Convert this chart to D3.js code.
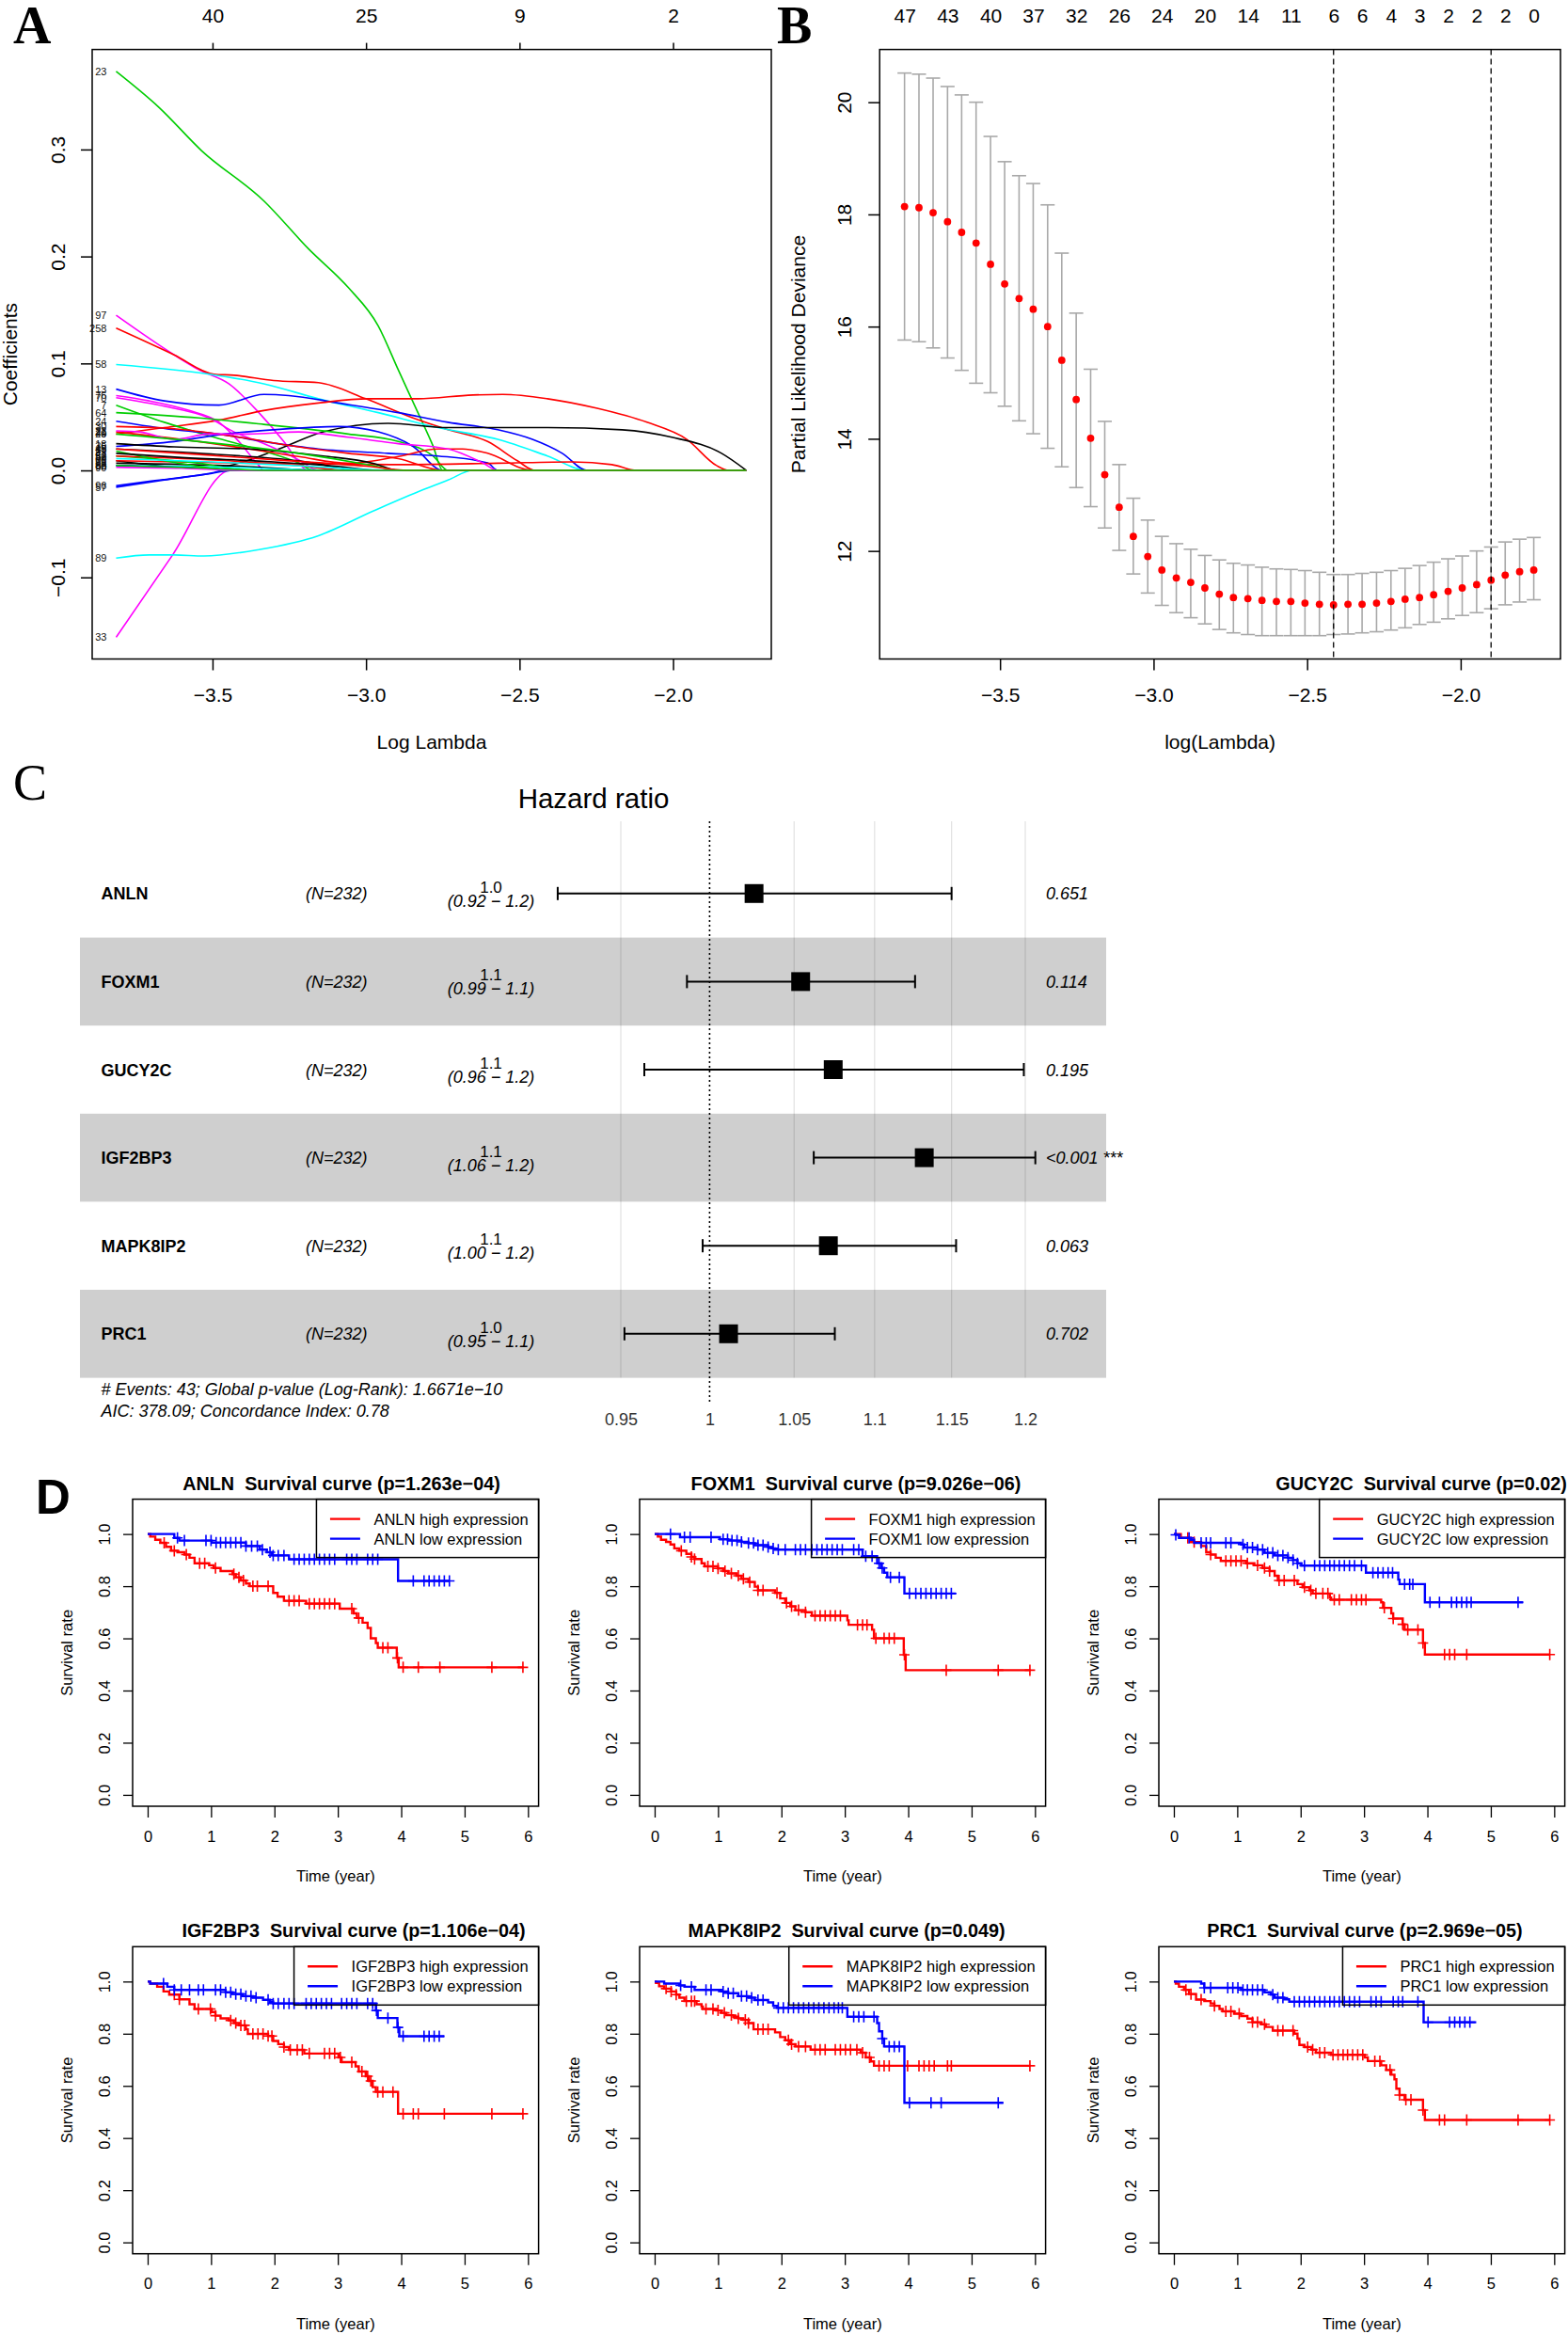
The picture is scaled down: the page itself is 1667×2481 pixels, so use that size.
<!DOCTYPE html>
<html><head><meta charset="utf-8">
<script src="https://cdn.jsdelivr.net/npm/d3@7"></script>
<style>
body{margin:0;background:#fff}
svg{display:block}
</style>
</head><body>
<svg id="chart" width="1667" height="2481"></svg>
<script>
// ===================== DATA =====================
// Panel A: lasso coefficient paths
const coefLambdaEnd = -1.761;
const aXTicks = [-3.5, -3.0, -2.5, -2.0];
const aYTicks = [-0.1, 0.0, 0.1, 0.2, 0.3];
const aTopAt = [-3.5, -3.0, -2.5, -2.0];
const aTopDf = ["40", "25", "9", "2"];
const coefPaths = [
 {label:"23", col:3, pts:[[-3.814,0.373],[-3.673,0.339],[-3.536,0.299],[-3.333,0.252],[-3.187,0.207],[-3.058,0.171],[-2.96,0.135],[-2.895,0.094],[-2.831,0.054],[-2.782,0.023],[-2.75,0]]},
 {label:"33", col:6, pts:[[-3.814,-0.156],[-3.63,-0.079],[-3.442,0]]},
 {label:"89", col:5, pts:[[-3.814,-0.082],[-3.706,-0.079],[-3.625,-0.079],[-3.528,-0.080],[-3.349,-0.074],[-3.155,-0.061],[-2.977,-0.038],[-2.814,-0.018],[-2.733,-0.009],[-2.652,0]]},
 {label:"97", col:6, pts:[[-3.814,0.145],[-3.625,0.108],[-3.544,0.094],[-3.447,0.081],[-3.349,0.054],[-3.268,0.027],[-3.203,0.002],[-3.195,0]]},
 {label:"258", col:2, pts:[[-3.814,0.133],[-3.625,0.108],[-3.495,0.090],[-3.43,0.089],[-3.301,0.084],[-3.155,0.082],[-3.001,0.067],[-2.847,0.049],[-2.733,0.038],[-2.604,0.027],[-2.507,0.009],[-2.45,0]]},
 {label:"58", col:5, pts:[[-3.814,0.099],[-3.511,0.090],[-3.333,0.081],[-3.155,0.067],[-2.96,0.054],[-2.766,0.040],[-2.571,0.029],[-2.409,0.0135],[-2.28,0]]},
 {label:"13", col:4, pts:[[-3.814,0.076],[-3.657,0.065],[-3.479,0.061],[-3.333,0.071],[-3.252,0.070],[-3.09,0.063],[-2.895,0.054],[-2.733,0.045],[-2.571,0.038],[-2.458,0.029],[-2.361,0.016],[-2.28,0]]},
 {label:"29", col:2, pts:[[-3.814,0.034],[-3.657,0.040],[-3.479,0.047],[-3.333,0.056],[-3.155,0.063],[-2.993,0.067],[-2.831,0.067],[-2.652,0.0705],[-2.555,0.071],[-2.409,0.067],[-2.247,0.058],[-2.085,0.045],[-1.955,0.029],[-1.858,0.0045],[-1.818,0]]},
 {label:"66", col:1, pts:[[-3.814,0.009],[-3.544,0.002],[-3.447,0.0045],[-3.284,0.020],[-3.139,0.036],[-2.928,0.044],[-2.733,0.040],[-2.409,0.040],[-2.166,0.038],[-2.004,0.031],[-1.842,0.016],[-1.761,0]]},
 {label:"76", col:6, pts:[[-3.814,0.070],[-3.706,0.065],[-3.576,0.056],[-3.479,0.045],[-3.414,0.027],[-3.349,0.0045],[-3.333,0]]},
 {label:"70", col:6, pts:[[-3.814,0.068],[-3.657,0.060],[-3.511,0.049],[-3.43,0.036],[-3.333,0.025],[-3.22,0.010],[-3.155,0]]},
 {label:"64", col:3, pts:[[-3.814,0.054],[-3.544,0.049],[-3.333,0.043],[-3.058,0.034],[-2.895,0.027],[-2.782,0.0135],[-2.733,0]]},
 {label:"7", col:3, pts:[[-3.814,0.061],[-3.657,0.045],[-3.495,0.031],[-3.333,0.018],[-3.22,0.007],[-3.171,0]]},
 {label:"24", col:4, pts:[[-3.814,0.046],[-3.625,0.038],[-3.479,0.034],[-3.333,0.027],[-3.155,0.020],[-2.928,0.016],[-2.766,0.0135],[-2.604,0.007],[-2.571,0]]},
 {label:"35", col:4, pts:[[-3.814,0.0225],[-3.625,0.027],[-3.463,0.034],[-3.301,0.038],[-3.09,0.041],[-2.96,0.036],[-2.847,0.0225],[-2.75,0]]},
 {label:"30", col:2, pts:[[-3.814,0.041],[-3.625,0.039],[-3.414,0.031],[-3.22,0.022],[-3.058,0.016],[-2.895,0.011],[-2.75,0]]},
 {label:"21", col:2, pts:[[-3.814,0.036],[-3.544,0.027],[-3.22,0.013],[-3.058,0.0067],[-2.895,0.013],[-2.766,0.020],[-2.685,0.020],[-2.604,0.016],[-2.458,0]]},
 {label:"71", col:2, pts:[[-3.814,0.009],[-3.382,0.0067],[-2.895,0.0054],[-2.571,0.0067],[-2.328,0.008],[-2.199,0.0054],[-2.118,0]]},
 {label:"22", col:6, pts:[[-3.814,0.037],[-3.738,0.036],[-3.625,0.029],[-3.511,0.034],[-3.382,0.034],[-3.22,0.036],[-3.058,0.031],[-2.895,0.025],[-2.733,0.020],[-2.62,0.007],[-2.571,0]]},
 {label:"57", col:4, pts:[[-3.814,-0.0157],[-3.657,-0.009],[-3.495,-0.002],[-3.463,0]]},
 {label:"96", col:4, pts:[[-3.814,-0.0144],[-3.7,-0.010],[-3.53,-0.004],[-3.43,0]]},
 {label:"18", col:1, pts:[[-3.814,0.025],[-3.625,0.022],[-3.382,0.020],[-3.139,0.0135],[-2.977,0.0067],[-2.895,0]]},
 {label:"19", col:1, pts:[[-3.814,0.020],[-3.544,0.016],[-3.22,0.009],[-3.0,0]]},
 {label:"72", col:1, pts:[[-3.814,0.0067],[-3.382,0.0036],[-3.139,0]]},
 {label:"40", col:3, pts:[[-3.814,0.034],[-3.544,0.027],[-3.22,0.016],[-2.977,0.0045],[-2.895,0]]},
 {label:"52", col:3, pts:[[-3.814,0.0135],[-3.544,0.0067],[-3.382,0]]},
 {label:"80", col:5, pts:[[-3.814,0.0045],[-3.544,0.0036],[-3.22,0.0009],[-3.1,0]]},
 {label:"50", col:2, pts:[[-3.814,0.0135],[-3.447,0.009],[-3.22,0.0045],[-3.058,0]]},
 {label:"85", col:4, pts:[[-3.814,0.0045],[-3.544,0.0022],[-3.382,0]]},
 {label:"99", col:3, pts:[[-3.814,0.018],[-3.657,0.009],[-3.511,0.0022],[-3.463,0]]},
 {label:"41", col:1, pts:[[-3.814,0.016],[-3.6,0.012],[-3.3,0.008],[-3.1,0.004],[-2.95,0]]},
 {label:"60", col:5, pts:[[-3.814,0.011],[-3.5,0.008],[-3.2,0.004],[-2.9,0]]},
 {label:"90", col:6, pts:[[-3.814,0.003],[-3.6,0.002],[-3.4,0]]},
 {label:"45", col:2, pts:[[-3.814,0.020],[-3.6,0.016],[-3.3,0.010],[-3.0,0.004],[-2.85,0]]},
 {label:"92", col:3, pts:[[-3.814,0.0045],[-3.5,0.002],[-3.3,0]]}
];

// Panel B: cross-validation curve
const cvLogLambda = [-3.811,-3.764,-3.718,-3.671,-3.625,-3.578,-3.531,-3.485,-3.438,-3.392,-3.345,-3.299,-3.252,-3.205,-3.159,-3.112,-3.066,-3.019,-2.973,-2.926,-2.879,-2.833,-2.786,-2.740,-2.693,-2.647,-2.600,-2.553,-2.507,-2.460,-2.414,-2.367,-2.321,-2.274,-2.227,-2.181,-2.134,-2.088,-2.041,-1.995,-1.948,-1.901,-1.855,-1.808,-1.762];
const cvMean = [18.14,18.12,18.03,17.87,17.68,17.49,17.11,16.76,16.50,16.31,16.00,15.40,14.70,14.01,13.36,12.78,12.26,11.90,11.66,11.52,11.44,11.34,11.23,11.17,11.15,11.12,11.10,11.10,11.07,11.05,11.04,11.05,11.05,11.07,11.10,11.14,11.17,11.22,11.28,11.34,11.40,11.48,11.57,11.63,11.66];
const cvUpper = [20.52,20.50,20.43,20.28,20.13,20.00,19.39,18.94,18.69,18.55,18.17,17.31,16.24,15.24,14.31,13.54,12.94,12.55,12.26,12.13,12.03,11.92,11.84,11.78,11.75,11.71,11.68,11.67,11.65,11.62,11.58,11.58,11.60,11.62,11.65,11.69,11.74,11.80,11.86,11.91,12.00,12.07,12.16,12.21,12.24];
const cvLower = [15.76,15.73,15.62,15.44,15.22,14.99,14.82,14.58,14.32,14.09,13.83,13.50,13.13,12.79,12.41,12.01,11.59,11.25,11.03,10.90,10.81,10.70,10.60,10.54,10.51,10.49,10.49,10.49,10.49,10.49,10.51,10.52,10.54,10.56,10.59,10.63,10.69,10.73,10.79,10.85,10.90,10.97,11.04,11.09,11.13];
const cvTopAt = [-3.811,-3.671,-3.531,-3.392,-3.252,-3.112,-2.973,-2.833,-2.693,-2.553,-2.414,-2.321,-2.227,-2.134,-2.041,-1.948,-1.855,-1.762];
const cvTopLabels = ["47","43","40","37","32","26","24","20","14","11","6","6","4","3","2","2","2","0"];
const cvLambdaMin = -2.414;
const cvLambda1se = -1.901;
const bXTicks = [-3.5, -3.0, -2.5, -2.0];
const bYTicks = [12, 14, 16, 18, 20];

// Panel C: multivariate Cox forest plot
const hrGenes = ["ANLN","FOXM1","GUCY2C","IGF2BP3","MAPK8IP2","PRC1"];
const hrN = [232,232,232,232,232,232];
const hrEst = [1.026,1.054,1.074,1.132,1.071,1.011];
const hrLow = [0.916,0.987,0.963,1.062,0.996,0.952];
const hrHigh = [1.150,1.126,1.199,1.207,1.153,1.075];
const hrEstLabel = ["1.0","1.1","1.1","1.1","1.1","1.0"];
const hrCiLabel = ["(0.92 − 1.2)","(0.99 − 1.1)","(0.96 − 1.2)","(1.06 − 1.2)","(1.00 − 1.2)","(0.95 − 1.1)"];
const hrPLabel = ["0.651","0.114","0.195","<0.001 ***","0.063","0.702"];
const hrTicks = [0.95, 1, 1.05, 1.1, 1.15, 1.2];
const hrFoot = ["# Events: 43; Global p-value (Log-Rank): 1.6671e−10", "AIC: 378.09; Concordance Index: 0.78"];

// Panel D: Kaplan-Meier curves  [time, survival] steps and censor times
const kmXTicks = [0,1,2,3,4,5,6];
const kmYTicks = [0,0.2,0.4,0.6,0.8,1.0];
const anlnHigh = [[0,1],[0.04,0.99],[0.12,0.978],[0.2,0.966],[0.29,0.951],[0.37,0.936],[0.47,0.93],[0.58,0.921],[0.66,0.909],[0.74,0.888],[0.97,0.88],[1.04,0.87],[1.15,0.858],[1.34,0.846],[1.39,0.834],[1.47,0.822],[1.55,0.81],[1.61,0.8],[1.98,0.774],[2.05,0.76],[2.15,0.744],[2.5,0.733],[3.03,0.714],[3.25,0.696],[3.3,0.678],[3.39,0.66],[3.47,0.64],[3.52,0.6],[3.6,0.582],[3.63,0.564],[3.93,0.525],[3.96,0.489],[5.93,0.489]];
const anlnHighCens = [0.26,0.42,0.61,0.82,0.9,1.07,1.36,1.44,1.51,1.66,1.73,1.9,2.23,2.31,2.39,2.55,2.63,2.71,2.79,2.87,2.95,3.22,3.33,3.71,3.79,3.94,4.03,4.27,4.61,5.43,5.92];
const anlnLow = [[0,1],[0.42,0.985],[0.5,0.975],[1.01,0.967],[1.55,0.954],[1.77,0.94],[1.88,0.93],[1.96,0.918],[2.23,0.903],[3.95,0.82],[4.76,0.82]];
const anlnLowCens = [0.47,0.58,0.92,1.0,1.08,1.15,1.23,1.31,1.39,1.47,1.55,1.64,1.73,1.81,1.93,1.98,2.06,2.15,2.31,2.39,2.47,2.55,2.63,2.71,2.79,2.87,2.95,3.14,3.22,3.3,3.47,3.55,3.63,4.19,4.36,4.44,4.52,4.6,4.68,4.76];
const foxm1High = [[0,1],[0.05,0.99],[0.1,0.978],[0.18,0.97],[0.25,0.96],[0.31,0.945],[0.39,0.936],[0.5,0.924],[0.58,0.912],[0.63,0.904],[0.74,0.888],[0.79,0.876],[1.0,0.868],[1.08,0.858],[1.16,0.849],[1.29,0.84],[1.37,0.828],[1.48,0.816],[1.58,0.798],[1.63,0.784],[1.9,0.774],[1.98,0.753],[2.06,0.736],[2.14,0.723],[2.22,0.708],[2.38,0.7],[2.48,0.687],[3.04,0.669],[3.06,0.652],[3.43,0.633],[3.46,0.6],[3.93,0.537],[3.96,0.478],[5.93,0.478]];
const foxm1HighCens = [0.42,0.58,0.63,0.84,0.92,1.0,1.11,1.21,1.32,1.4,1.5,1.63,1.71,1.93,2.08,2.16,2.27,2.38,2.53,2.61,2.69,2.77,2.85,2.93,3.2,3.28,3.35,3.49,3.62,3.7,3.78,3.94,4.6,5.42,5.92];
const foxm1Low = [[0,1],[0.4,0.988],[1.03,0.98],[1.16,0.975],[1.37,0.97],[1.48,0.965],[1.58,0.957],[1.79,0.95],[1.85,0.945],[1.9,0.94],[3.28,0.915],[3.51,0.888],[3.57,0.87],[3.62,0.852],[3.67,0.834],[3.94,0.772],[4.75,0.772]];
const foxm1LowCens = [0.25,0.47,0.56,0.89,1.08,1.15,1.22,1.3,1.37,1.48,1.56,1.63,1.71,1.79,1.87,1.95,2.06,2.22,2.3,2.38,2.48,2.56,2.64,2.72,2.8,2.88,2.96,3.14,3.22,3.33,3.43,3.54,3.59,3.72,3.86,4.02,4.12,4.2,4.28,4.36,4.44,4.52,4.6,4.68];
const gucy2cHigh = [[0,1],[0.11,0.985],[0.27,0.969],[0.43,0.954],[0.51,0.93],[0.58,0.921],[0.66,0.909],[0.74,0.897],[1.14,0.888],[1.27,0.88],[1.4,0.87],[1.51,0.858],[1.59,0.84],[1.64,0.822],[1.95,0.808],[2.03,0.796],[2.14,0.784],[2.19,0.772],[2.46,0.756],[2.48,0.748],[3.27,0.738],[3.3,0.717],[3.43,0.696],[3.46,0.676],[3.61,0.654],[3.64,0.633],[3.93,0.582],[3.96,0.538],[5.93,0.538]];
const gucy2cHighCens = [0.22,0.32,0.58,0.82,0.9,0.98,1.06,1.16,1.32,1.43,1.51,1.66,1.74,1.9,2.06,2.16,2.24,2.35,2.43,2.53,2.61,2.8,2.88,2.96,3.03,3.32,3.46,3.61,3.69,3.85,3.93,4.27,4.35,4.43,4.62,5.93];
const gucy2cLow = [[0,1],[0.03,0.997],[0.08,0.985],[0.27,0.978],[0.32,0.966],[1.06,0.96],[1.11,0.948],[1.32,0.94],[1.43,0.928],[1.59,0.918],[1.8,0.909],[1.88,0.9],[1.95,0.888],[2.01,0.879],[3.03,0.852],[3.54,0.825],[3.56,0.808],[3.96,0.738],[5.51,0.738]];
const gucy2cLowCens = [0.03,0.24,0.43,0.51,0.58,0.82,0.9,1.09,1.16,1.24,1.32,1.4,1.48,1.56,1.64,1.72,1.8,1.88,1.95,2.06,2.22,2.3,2.38,2.46,2.53,2.61,2.69,2.77,2.85,2.96,3.14,3.22,3.3,3.38,3.45,3.64,3.72,3.77,4.04,4.19,4.38,4.46,4.54,4.62,4.69,5.43];
const igf2bp3High = [[0,1],[0.04,0.992],[0.15,0.98],[0.25,0.962],[0.34,0.95],[0.5,0.932],[0.66,0.913],[0.74,0.895],[1.01,0.883],[1.07,0.869],[1.15,0.859],[1.28,0.851],[1.36,0.841],[1.44,0.832],[1.55,0.817],[1.58,0.799],[1.9,0.791],[1.98,0.772],[2.06,0.76],[2.15,0.749],[2.23,0.738],[2.47,0.724],[3.01,0.709],[3.06,0.691],[3.28,0.675],[3.33,0.655],[3.44,0.637],[3.49,0.619],[3.55,0.595],[3.6,0.577],[3.95,0.493],[5.93,0.493]];
const igf2bp3HighCens = [0.42,0.5,0.8,0.99,1.07,1.31,1.39,1.47,1.53,1.66,1.74,1.82,1.9,1.96,2.15,2.25,2.36,2.44,2.55,2.79,2.87,2.95,3.04,3.22,3.38,3.47,3.52,3.63,3.71,3.87,4.03,4.19,4.27,4.68,5.43,5.92];
const igf2bp3Low = [[0,1],[0.04,0.992],[0.31,0.98],[0.42,0.968],[1.23,0.959],[1.34,0.952],[1.5,0.944],[1.66,0.938],[1.82,0.93],[1.93,0.923],[1.98,0.916],[3.6,0.889],[3.63,0.86],[3.94,0.824],[3.97,0.79],[4.68,0.79]];
const igf2bp3LowCens = [0.25,0.42,0.53,0.66,0.8,0.88,1.07,1.15,1.23,1.31,1.39,1.47,1.55,1.63,1.71,1.9,1.98,2.06,2.15,2.23,2.31,2.5,2.58,2.66,2.74,2.82,2.9,3.06,3.14,3.22,3.3,3.47,3.55,3.61,3.79,3.95,4.03,4.36,4.44,4.52,4.6];
const mapk8ip2High = [[0,1],[0.02,0.995],[0.07,0.982],[0.15,0.973],[0.26,0.962],[0.34,0.95],[0.39,0.938],[0.47,0.925],[0.66,0.913],[0.74,0.904],[0.76,0.895],[0.97,0.889],[1.05,0.88],[1.13,0.871],[1.24,0.865],[1.32,0.859],[1.4,0.853],[1.48,0.841],[1.56,0.817],[1.9,0.805],[1.98,0.787],[2.06,0.775],[2.14,0.76],[2.22,0.751],[2.46,0.739],[3.25,0.727],[3.33,0.709],[3.41,0.694],[3.46,0.677],[5.93,0.677]];
const mapk8ip2HighCens = [0.18,0.26,0.34,0.5,0.58,0.63,0.81,0.92,1.0,1.1,1.21,1.32,1.43,1.48,1.63,1.71,1.79,2.11,2.16,2.27,2.38,2.53,2.61,2.69,2.85,2.93,3.01,3.09,3.19,3.28,3.39,3.54,3.62,3.7,3.99,4.17,4.25,4.33,4.41,4.62,4.68,5.92];
const mapk8ip2Low = [[0,1],[0.15,0.992],[0.39,0.985],[0.47,0.98],[0.63,0.968],[1.05,0.962],[1.16,0.955],[1.32,0.944],[1.48,0.938],[1.58,0.929],[1.79,0.92],[1.87,0.907],[1.93,0.899],[3.04,0.865],[3.51,0.841],[3.54,0.809],[3.59,0.781],[3.62,0.751],[3.94,0.535],[5.5,0.535]];
const mapk8ip2LowCens = [0.41,0.58,0.81,0.89,1.08,1.16,1.24,1.37,1.45,1.53,1.63,1.71,1.95,2.03,2.11,2.19,2.27,2.35,2.43,2.51,2.59,2.67,2.75,2.83,2.9,2.96,3.14,3.22,3.3,3.46,3.59,3.7,3.78,3.86,4.02,4.36,4.52,5.42];
const prc1High = [[0,1],[0.03,0.992],[0.08,0.98],[0.16,0.968],[0.24,0.952],[0.35,0.931],[0.48,0.925],[0.58,0.916],[0.64,0.907],[0.72,0.895],[0.77,0.886],[0.95,0.877],[1.06,0.868],[1.16,0.858],[1.24,0.844],[1.38,0.836],[1.45,0.826],[1.56,0.812],[1.9,0.8],[1.95,0.781],[1.98,0.757],[2.06,0.749],[2.17,0.739],[2.24,0.727],[2.48,0.719],[3.01,0.709],[3.06,0.695],[3.27,0.679],[3.35,0.661],[3.43,0.643],[3.48,0.625],[3.51,0.589],[3.56,0.565],[3.64,0.547],[3.93,0.507],[3.96,0.469],[5.93,0.469]];
const prc1HighCens = [0.19,0.27,0.43,0.64,0.82,0.9,1.03,1.24,1.32,1.43,1.64,1.72,1.88,2.11,2.19,2.3,2.38,2.51,2.59,2.67,2.74,2.82,2.9,2.98,3.17,3.25,3.41,3.56,3.66,3.74,3.93,4.19,4.27,4.62,5.43,5.93];
const prc1Low = [[0,1],[0.43,0.992],[0.48,0.976],[1.06,0.968],[1.43,0.959],[1.53,0.95],[1.59,0.938],[1.74,0.932],[1.82,0.923],[3.94,0.844],[4.77,0.844]];
const prc1LowCens = [0.48,0.58,0.85,0.93,1.01,1.09,1.16,1.24,1.32,1.4,1.56,1.64,1.72,1.9,1.98,2.06,2.14,2.22,2.3,2.38,2.46,2.53,2.61,2.69,2.77,2.85,2.93,3.11,3.19,3.27,3.46,3.54,3.61,3.85,4.01,4.35,4.43,4.51,4.59,4.67];
const kmGenes = ["ANLN","FOXM1","GUCY2C","IGF2BP3","MAPK8IP2","PRC1"];
const kmPvalues = ["1.263e−04","9.026e−06","0.02","1.106e−04","0.049","2.969e−05"];
const kmCurves = [
  [anlnHigh, anlnHighCens, anlnLow, anlnLowCens],
  [foxm1High, foxm1HighCens, foxm1Low, foxm1LowCens],
  [gucy2cHigh, gucy2cHighCens, gucy2cLow, gucy2cLowCens],
  [igf2bp3High, igf2bp3HighCens, igf2bp3Low, igf2bp3LowCens],
  [mapk8ip2High, mapk8ip2HighCens, mapk8ip2Low, mapk8ip2LowCens],
  [prc1High, prc1HighCens, prc1Low, prc1LowCens]
];

// ===================== STYLE / LAYOUT =====================
const SANS = '"Liberation Sans", Arial, Helvetica, sans-serif';
const SERIF = '"Liberation Serif", "Times New Roman", serif';
const rPalette = {1:"#000000", 2:"#FF0000", 3:"#00CD00", 4:"#0000FF", 5:"#00FFFF", 6:"#FF00FF"};
const svg = d3.select("#chart").style("font-family", SANS);
svg.append("rect").attr("width",1667).attr("height",2481).attr("fill","#fff");

function styleAxis(g, fs, sw){
  g.attr("font-family", SANS).attr("font-size", fs);
  g.select(".domain").remove();
  g.selectAll(".tick line").attr("stroke","#000").attr("stroke-width", sw || 1.5);
  g.selectAll(".tick text").attr("fill","#000");
}
function rotLeft(g, off){
  g.selectAll(".tick text").attr("x",0).attr("dy",0).attr("text-anchor","middle")
   .attr("transform",`translate(${-off},0) rotate(-90)`);
}
const fmt1 = d3.format(".1f");

// ===================== PANEL A =====================
(function(){
  const box = {l:98, r:820, t:52.6, b:700.5};
  const x = d3.scaleLinear().domain([-3.892,-1.680]).range([box.l, box.r]);
  const y = d3.scaleLinear().domain([-0.1763,0.3935]).range([box.b, box.t]);
  const g = svg.append("g");
  const line = d3.line().x(d=>x(d[0])).y(d=>y(d[1])).curve(d3.curveMonotoneX);
  coefPaths.forEach(p=>{
    const pts = p.pts.slice();
    if (pts[pts.length-1][0] < coefLambdaEnd) pts.push([coefLambdaEnd, 0]);
    g.append("path").attr("d", line(pts)).attr("fill","none")
      .attr("stroke", rPalette[p.col]).attr("stroke-width",1.6);
  });
  coefPaths.forEach(p=>{
    g.append("text").attr("x", x(p.pts[0][0]) - 10).attr("y", y(p.pts[0][1]) + 4)
      .attr("text-anchor","end").attr("font-size",11).attr("fill","#111").text(p.label);
  });
  g.append("rect").attr("x",box.l).attr("y",box.t).attr("width",box.r-box.l).attr("height",box.b-box.t)
    .attr("fill","none").attr("stroke","#000").attr("stroke-width",1.5);
  g.append("g").attr("transform",`translate(0,${box.b})`)
    .call(d3.axisBottom(x).tickValues(aXTicks).tickFormat(fmt1).tickSize(12).tickPadding(19))
    .call(styleAxis, 21);
  g.append("g").attr("transform",`translate(${box.l},0)`)
    .call(d3.axisLeft(y).tickValues(aYTicks).tickFormat(fmt1).tickSize(12))
    .call(styleAxis, 21).call(rotLeft, 29.5);
  g.append("g").attr("transform",`translate(0,${box.t})`)
    .call(d3.axisTop(x).tickValues(aTopAt).tickFormat((d,i)=>aTopDf[i]).tickSize(7).tickPadding(21.6))
    .call(styleAxis, 21);
  g.append("text").attr("x",(box.l+box.r)/2).attr("y",795.5).attr("text-anchor","middle")
    .attr("font-size",21).text("Log Lambda");
  g.append("text").attr("transform",`translate(18,${(box.t+box.b)/2}) rotate(-90)`).attr("text-anchor","middle")
    .attr("font-size",21).text("Coefficients");
  svg.append("text").attr("x",14).attr("y",46).attr("font-family",SERIF).attr("font-weight","bold")
    .attr("font-size",56).text("A");
})();

// ===================== PANEL B =====================
(function(){
  const box = {l:935.2, r:1659, t:52.6, b:700.5};
  const x = d3.scaleLinear().domain([-3.892,-1.675]).range([box.l, box.r]);
  const y = d3.scaleLinear().domain([10.074,20.94]).range([box.b, box.t]);
  const g = svg.append("g");
  const cap = 7.5;
  cvLogLambda.forEach((l,i)=>{
    const xx = x(l);
    g.append("line").attr("x1",xx).attr("x2",xx).attr("y1",y(cvLower[i])).attr("y2",y(cvUpper[i]))
      .attr("stroke","#A9A9A9").attr("stroke-width",1.6);
    [cvLower[i], cvUpper[i]].forEach(v=>{
      g.append("line").attr("x1",xx-cap).attr("x2",xx+cap).attr("y1",y(v)).attr("y2",y(v))
        .attr("stroke","#A9A9A9").attr("stroke-width",1.6);
    });
  });
  g.selectAll("circle.cv").data(cvLogLambda).enter().append("circle")
    .attr("cx",d=>x(d)).attr("cy",(d,i)=>y(cvMean[i])).attr("r",3.9).attr("fill","#FF0000");
  [cvLambdaMin, cvLambda1se].forEach(v=>{
    g.append("line").attr("x1",x(v)).attr("x2",x(v)).attr("y1",box.t).attr("y2",box.b)
      .attr("stroke","#000").attr("stroke-width",1.3).attr("stroke-dasharray","6,4");
  });
  g.append("rect").attr("x",box.l).attr("y",box.t).attr("width",box.r-box.l).attr("height",box.b-box.t)
    .attr("fill","none").attr("stroke","#000").attr("stroke-width",1.5);
  g.append("g").attr("transform",`translate(0,${box.b})`)
    .call(d3.axisBottom(x).tickValues(bXTicks).tickFormat(fmt1).tickSize(12).tickPadding(19))
    .call(styleAxis, 21);
  g.append("g").attr("transform",`translate(${box.l},0)`)
    .call(d3.axisLeft(y).tickValues(bYTicks).tickFormat(d3.format("d")).tickSize(12))
    .call(styleAxis, 21).call(rotLeft, 30);
  g.append("g").attr("transform",`translate(0,${box.t})`)
    .call(d3.axisTop(x).tickValues(cvTopAt).tickFormat((d,i)=>cvTopLabels[i]).tickSize(0).tickPadding(28.6))
    .call(styleAxis, 21);
  g.append("text").attr("x",(box.l+box.r)/2).attr("y",795.5).attr("text-anchor","middle")
    .attr("font-size",21).text("log(Lambda)");
  g.append("text").attr("transform",`translate(856,${(box.t+box.b)/2}) rotate(-90)`).attr("text-anchor","middle")
    .attr("font-size",21).text("Partial Likelihood Deviance");
  svg.append("text").attr("x",826).attr("y",46).attr("font-family",SERIF).attr("font-weight","bold")
    .attr("font-size",56).text("B");
})();

// ===================== PANEL C =====================
(function(){
  const rowTop = 903, rowH = 93.6;
  const bandL = 85, bandR = 1176;
  const x = d3.scaleLog().domain([0.95,1.2]).range([660,1090]);
  const y = d3.scaleBand().domain(hrGenes).range([rowTop, rowTop + rowH*hrGenes.length]);
  const g = svg.append("g");
  hrGenes.forEach((gn,i)=>{
    if (i % 2 === 1) g.append("rect").attr("x",bandL).attr("y",y(gn)).attr("width",bandR-bandL)
      .attr("height",y.bandwidth()).attr("fill","#CFCFCF");
  });
  hrTicks.filter(t=>t!==1).forEach(t=>{
    g.append("line").attr("x1",x(t)).attr("x2",x(t)).attr("y1",873).attr("y2",y.range()[1])
      .attr("stroke","rgba(0,0,0,0.12)").attr("stroke-width",1.2);
  });
  g.append("line").attr("x1",x(1)).attr("x2",x(1)).attr("y1",873).attr("y2",1492)
    .attr("stroke","#000").attr("stroke-width",1.6).attr("stroke-dasharray","2,3");
  const axis = g.append("g").attr("transform",`translate(0,1497)`)
    .call(d3.axisBottom(x).tickValues(hrTicks).tickFormat(d=>String(d)).tickSize(0).tickPadding(5))
    .call(styleAxis, 18);
  axis.selectAll(".tick text").attr("fill","#333");
  hrGenes.forEach((gn,i)=>{
    const cy = y(gn) + y.bandwidth()/2;
    g.append("line").attr("x1",x(hrLow[i])).attr("x2",x(hrHigh[i])).attr("y1",cy).attr("y2",cy)
      .attr("stroke","#000").attr("stroke-width",2);
    [hrLow[i], hrHigh[i]].forEach(v=>{
      g.append("line").attr("x1",x(v)).attr("x2",x(v)).attr("y1",cy-7).attr("y2",cy+7)
        .attr("stroke","#000").attr("stroke-width",2);
    });
    g.append("rect").attr("x",x(hrEst[i])-10).attr("y",cy-10).attr("width",20).attr("height",20).attr("fill","#000");
    g.append("text").attr("x",107.6).attr("y",cy+6.5).attr("font-weight","bold").attr("font-size",18).text(gn);
    g.append("text").attr("x",325).attr("y",cy+6.5).attr("font-style","italic").attr("font-size",18).text(`(N=${hrN[i]})`);
    g.append("text").attr("x",522).attr("y",cy-1).attr("text-anchor","middle").attr("font-size",17).text(hrEstLabel[i]);
    g.append("text").attr("x",522).attr("y",cy+14).attr("text-anchor","middle").attr("font-style","italic")
      .attr("font-size",18).text(hrCiLabel[i]);
    g.append("text").attr("x",1112).attr("y",cy+6.5).attr("font-style","italic").attr("font-size",18).text(hrPLabel[i]);
  });
  hrFoot.forEach((t,i)=>{
    g.append("text").attr("x",107.6).attr("y",1483 + i*23).attr("font-style","italic").attr("font-size",18).text(t);
  });
  g.append("text").attr("x",631).attr("y",858.5).attr("text-anchor","middle").attr("font-size",29.5).text("Hazard ratio");
  svg.append("text").attr("x",14).attr("y",850).attr("font-family",SERIF).attr("font-size",54).text("C");
})();

// ===================== PANEL D =====================
(function(){
  const cols = [[141,572.6],[680,1111.6],[1232,1663.6]];
  const rows = [[1593.6,1920],[2069.3,2395.7]];
  const titleX = [363, 910, 1511, 376, 900, 1451];
  const colors = ["#FF0000", "#0000FF"];
  function survAt(steps, t){
    let s = steps[0][1];
    for (const st of steps){ if (st[0] <= t) s = st[1]; else break; }
    return s;
  }
  kmGenes.forEach((gene, i)=>{
    const [cl, cr] = cols[i % 3];
    const [rt, rb] = rows[Math.floor(i / 3)];
    const x = d3.scaleLinear().domain([-0.2372, 6.1672]).range([cl, cr]);
    const y = d3.scaleLinear().domain([-0.0436, 1.1336]).range([rb, rt]);
    const g = svg.append("g");
    const line = d3.line().x(d=>x(d[0])).y(d=>y(d[1])).curve(d3.curveStepAfter);
    const [hi, hiC, lo, loC] = kmCurves[i];
    [[hi,hiC],[lo,loC]].forEach(([steps,cens],k)=>{
      g.append("path").attr("d", line(steps)).attr("fill","none").attr("stroke",colors[k]).attr("stroke-width",2.4);
      cens.forEach(t=>{
        const cx = x(t), cy = y(survAt(steps,t));
        g.append("path").attr("d",`M${cx-5.5},${cy}H${cx+5.5}M${cx},${cy-6}V${cy+6}`)
          .attr("stroke",colors[k]).attr("stroke-width",1.6).attr("fill","none");
      });
    });
    g.append("rect").attr("x",cl).attr("y",rt).attr("width",cr-cl).attr("height",rb-rt)
      .attr("fill","none").attr("stroke","#000").attr("stroke-width",1.5);
    g.append("g").attr("transform",`translate(0,${rb})`)
      .call(d3.axisBottom(x).tickValues(kmXTicks).tickFormat(d3.format("d")).tickSize(12).tickPadding(14))
      .call(styleAxis, 16.5, 1.3);
    g.append("g").attr("transform",`translate(${cl},0)`)
      .call(d3.axisLeft(y).tickValues(kmYTicks).tickFormat(fmt1).tickSize(10))
      .call(styleAxis, 16.5, 1.3).call(rotLeft, 24);
    g.append("text").attr("x",(cl+cr)/2).attr("y",rb+80).attr("text-anchor","middle").attr("font-size",16.5).text("Time (year)");
    g.append("text").attr("transform",`translate(${cl-64},${(rt+rb)/2}) rotate(-90)`).attr("text-anchor","middle")
      .attr("font-size",16.5).text("Survival rate");
    g.append("text").attr("x",titleX[i]).attr("y",rt-10).attr("text-anchor","middle").attr("font-weight","bold")
      .attr("font-size",19.8).style("white-space","pre").text(`${gene}  Survival curve (p=${kmPvalues[i]})`);
    // legend (transparent box, as in the original)
    const lg = g.append("g");
    const labels = [`${gene} high expression`, `${gene} low expression`];
    const texts = labels.map((lab,k)=> lg.append("text").attr("y", rt + 21 + k*21 + 6).attr("font-size",16.5).text(lab));
    const tw = d3.max(texts, t=>t.node().getComputedTextLength());
    const lw = 14.5 + 32 + 14.5 + tw + 11;
    const ll = cr - lw;
    lg.insert("rect","text").attr("x",ll).attr("y",rt).attr("width",lw).attr("height",62)
      .attr("fill","none").attr("stroke","#000").attr("stroke-width",1.5);
    texts.forEach((t,k)=>{
      t.attr("x", ll + 61);
      lg.append("line").attr("x1",ll+14.5).attr("x2",ll+46.5).attr("y1",rt+21+k*21).attr("y2",rt+21+k*21)
        .attr("stroke",colors[k]).attr("stroke-width",2.4);
    });
  });
  svg.append("text").attr("x",38).attr("y",1609).attr("font-weight","bold").attr("font-size",51).text("D");
})();
</script>
</body></html>
